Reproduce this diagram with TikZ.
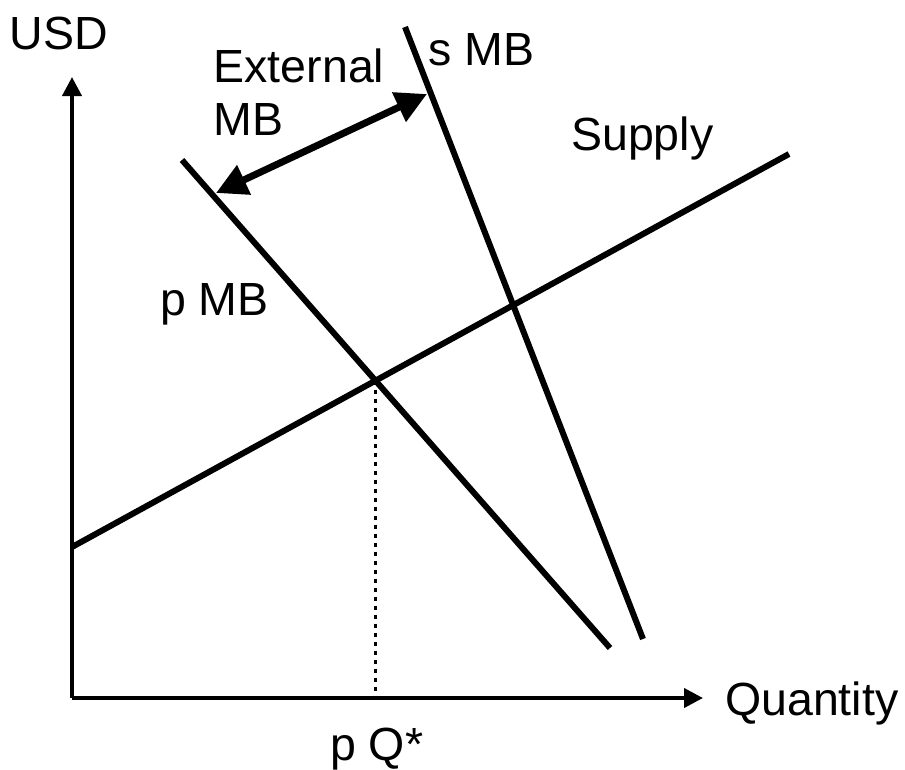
\documentclass[tikz,border=0pt]{standalone}
\usepackage{fontspec}
\setmainfont{Liberation Sans}
\usetikzlibrary{arrows.meta}

\begin{document}
\begin{tikzpicture}[
      x=1pt, y=-1pt,
      font=\fontsize{46.5}{53}\selectfont,
      lbl/.style={anchor=base west, inner sep=0pt, align=left},
      axis/.style={line width=4pt, -{Triangle[length=19pt,width=19pt]}},
      curve/.style={line width=6pt},
      gap/.style={line width=7pt, {Triangle[length=31pt,width=31pt]}-{Triangle[length=31pt,width=31pt]}}
    ]
    \useasboundingbox (0,0) rectangle (905,769);

    % axes
    \coordinate (origin) at (72,698);
    \coordinate (ytop) at (72,77);
    \coordinate (xend) at (703,698);
    \draw[axis] (origin) -- (ytop);
    \draw[axis] (origin) -- (xend);
    \node[lbl] (usd) at (9.5,49) {USD};
    \node[lbl] (qty) at (725,715) {Quantity};

    % curves
    \coordinate (s0) at (72,547);
    \coordinate (s1) at (789,154);
    \coordinate (p0) at (182,160);
    \coordinate (p1) at (610,648);
    \coordinate (m0) at (405,27);
    \coordinate (m1) at (643,639);
    \draw[curve] (s0) -- (s1);
    \draw[curve] (p0) -- (p1);
    \draw[curve] (m0) -- (m1);
    \node[lbl] (supply) at (571,150) {Supply};
    \node[lbl] (pmb) at (160,315) {p MB};
    \node[lbl] (smb) at (428.5,65) {s MB};

    % private equilibrium
    \coordinate (eq) at (intersection of s0--s1 and p0--p1);
    \coordinate (eqx) at (eq |- origin);
    \draw[line width=3.6pt, dash pattern=on 4.5pt off 4.5pt] (eq) -- (eqx);
    \node[lbl] (pq) at (330,760) {p Q*};

    % external benefit gap
    \coordinate (g0) at (216,193);
    \coordinate (g1) at (427,94);
    \draw[gap] (g0) -- (g1);
    \node[lbl] (ext) at (213.5,135) {External\\MB};
  \end{tikzpicture}
\end{document}
